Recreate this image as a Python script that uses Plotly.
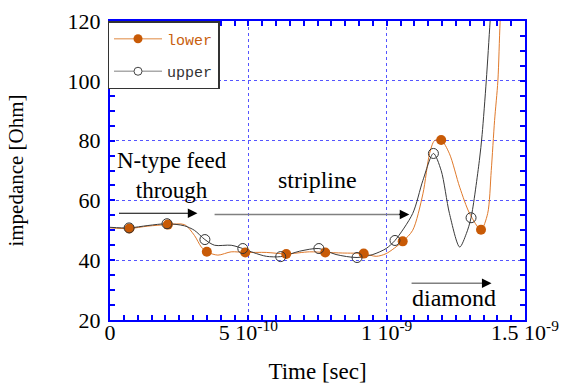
import plotly.graph_objects as go

# ---- data (time in ns, impedance in Ohm) ----
lower_t = [0.0, 0.070, 0.137, 0.209, 0.269, 0.305, 0.330, 0.350, 0.390, 0.438, 0.489, 0.565,
           0.637, 0.721, 0.778, 0.841, 0.917, 0.962, 0.998, 1.058, 1.094, 1.131, 1.155, 1.173,
           1.197, 1.227, 1.264, 1.300, 1.341, 1.365, 1.378, 1.390, 1.402, 1.410, 1.420]
lower_v = [50.8, 50.6, 51.4, 51.9, 51.9, 48.3, 44.4, 42.8, 41.7, 42.8, 42.6, 42.6,
           42.1, 42.8, 42.6, 42.4, 42.2, 41.3, 42.2, 46.3, 50.0, 62.2, 75.6, 80.0,
           80.2, 75.6, 64.4, 55.6, 50.2, 55.6, 70.0, 86.7, 100.0, 119.5, 135.0]

upper_t = [0.0, 0.069, 0.137, 0.206, 0.269, 0.305, 0.343, 0.378, 0.438, 0.480, 0.520, 0.565,
           0.617, 0.685, 0.755, 0.817, 0.893, 0.950, 0.998, 1.030, 1.094, 1.131, 1.169, 1.197,
           1.227, 1.264, 1.288, 1.305, 1.335, 1.345, 1.360, 1.374, 1.385]
upper_v = [51.0, 50.8, 51.6, 52.2, 51.5, 50.0, 46.9, 45.0, 45.0, 43.9, 42.5, 41.3,
           41.2, 43.0, 43.9, 41.9, 40.9, 41.9, 43.9, 46.6, 55.6, 66.7, 75.7, 70.0,
           55.6, 44.4, 48.9, 54.2, 73.3, 82.0, 100.0, 120.0, 135.0]

lower_marker_t = [0.070, 0.209, 0.350, 0.489, 0.637, 0.778, 0.917, 1.058, 1.197, 1.341]
lower_marker_v = [50.6, 51.9, 42.8, 42.6, 42.1, 42.6, 42.2, 46.3, 80.2, 50.2]
upper_marker_t = [0.069, 0.206, 0.343, 0.480, 0.617, 0.755, 0.893, 1.030, 1.169, 1.305]
upper_marker_v = [50.8, 52.2, 46.9, 43.9, 41.2, 43.9, 40.9, 46.6, 75.7, 54.2]

x_tickvals = [0, 0.5, 1.0, 1.5]
x_ticktext = ["0", "5 10<sup>-10</sup>", "1 10<sup>-9</sup>", "1.5 10<sup>-9</sup>"]
y_tickvals = [20, 40, 60, 80, 100, 120]

ORANGE_LINE = "#e07a2c"
ORANGE_MARK = "#c85a06"
GRAY_LINE = "#3a3a3a"
BLUE = "#0000ff"
SERIF = "Liberation Serif, Times New Roman, serif"

fig = go.Figure()

# curves
fig.add_trace(go.Scatter(x=lower_t, y=lower_v, mode="lines", line=dict(color=ORANGE_LINE, width=1, shape="spline", smoothing=0.8),
                         showlegend=False, hoverinfo="skip"))
fig.add_trace(go.Scatter(x=upper_t, y=upper_v, mode="lines", line=dict(color=GRAY_LINE, width=1, shape="spline", smoothing=0.8),
                         showlegend=False, hoverinfo="skip"))
# markers
fig.add_trace(go.Scatter(x=lower_marker_t, y=lower_marker_v, mode="markers",
                         marker=dict(color=ORANGE_MARK, size=10, line=dict(width=0)), showlegend=False))
fig.add_trace(go.Scatter(x=upper_marker_t, y=upper_marker_v, mode="markers",
                         marker=dict(symbol="circle-open", color="#333333", size=10, line=dict(width=1)), showlegend=False))

# legend entries
fig.add_trace(go.Scatter(x=[None], y=[None], mode="lines+markers",
                         name="<span style='color:#c8600e'>lower</span>", legendgroup="a",
                         line=dict(color="#eab080", width=1.5), marker=dict(color=ORANGE_MARK, size=9)))
fig.add_trace(go.Scatter(x=[None], y=[None], mode="lines+markers", name="upper", legendgroup="b",
                         line=dict(color="#aaaaaa", width=1.5),
                         marker=dict(symbol="circle", color="white", size=8, line=dict(color="#444444", width=1))))

# annotations
fig.add_annotation(x=0.224, y=68.3, text="N-type feed<br>through", showarrow=False,
                   font=dict(family=SERIF, size=23, color="black"))
fig.add_annotation(x=0.75, y=66.7, text="stripline", showarrow=False,
                   font=dict(family=SERIF, size=24, color="black"))
fig.add_annotation(x=1.242, y=27.3, text="diamond", showarrow=False,
                   font=dict(family=SERIF, size=24, color="black"))

# arrows: N-type (black)
fig.add_annotation(x=0.316, y=55.7, ax=0.027, ay=55.7, axref="x", ayref="y", xref="x", yref="y",
                   showarrow=True, arrowhead=2, arrowsize=1.6, arrowwidth=1.2, arrowcolor="black", text="")
# stripline: gray shaft, black head
fig.add_shape(type="line", x0=0.378, x1=1.06, y0=55.3, y1=55.3, xref="x", yref="y",
              line=dict(color="#808080", width=1.5))
fig.add_annotation(x=1.082, y=55.3, ax=1.04, ay=55.3, axref="x", ayref="y", xref="x", yref="y",
                   showarrow=True, arrowhead=2, arrowsize=1.6, arrowwidth=1.2, arrowcolor="black", text="")
# diamond: gray shaft, black head
fig.add_shape(type="line", x0=1.09, x1=1.36, y0=32.3, y1=32.3, xref="x", yref="y",
              line=dict(color="#808080", width=1.5))
fig.add_annotation(x=1.379, y=32.3, ax=1.34, ay=32.3, axref="x", ayref="y", xref="x", yref="y",
                   showarrow=True, arrowhead=2, arrowsize=1.6, arrowwidth=1.2, arrowcolor="black", text="")

axis_common = dict(
    showline=True, linecolor=BLUE, linewidth=2, mirror="ticks",
    ticks="inside", ticklen=5, tickwidth=1.5, tickcolor=BLUE,
    showgrid=True, gridcolor="#5555ff", gridwidth=1, griddash="dot",
    zeroline=False, automargin=False,
    tickfont=dict(family=SERIF, size=22, color="black"),
)

fig.update_xaxes(range=[0, 1.5], tickvals=x_tickvals, ticktext=x_ticktext, ticklabelstandoff=-8,
                 minor=dict(dtick=0.05, ticks="inside", ticklen=5, tickcolor=BLUE, tickwidth=1.5, showgrid=False),
                 title=dict(text="Time [sec]", font=dict(family=SERIF, size=23, color="black"), standoff=18),
                 **axis_common)
fig.update_yaxes(range=[20, 120], tickvals=y_tickvals, ticklabelstandoff=3,
                 minor=dict(dtick=5, ticks="inside", ticklen=5, tickcolor=BLUE, tickwidth=1.5, showgrid=False),
                 title=dict(text="impedance [Ohm]", font=dict(family=SERIF, size=21, color="black"), standoff=38),
                 **axis_common)

fig.update_layout(
    width=564, height=385,
    margin=dict(l=110, r=39, t=21, b=65),
    paper_bgcolor="white", plot_bgcolor="white",
    legend=dict(x=-0.006, y=1.0, xanchor="left", yanchor="top",
                bgcolor="white", bordercolor="#333333", borderwidth=1.5,
                font=dict(family="Liberation Mono, DejaVu Sans Mono, monospace", size=15, color="#333333"),
                tracegroupgap=10, itemwidth=48),
    showlegend=True,
)
fig.write_html("out.html", config={"displayModeBar": False},
               post_script="document.body.style.margin='0';document.body.style.overflow='hidden';")
